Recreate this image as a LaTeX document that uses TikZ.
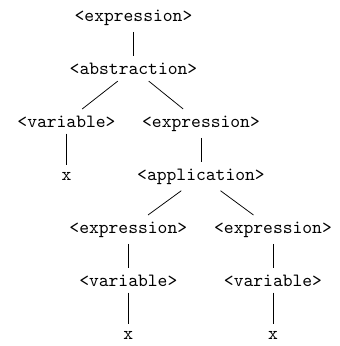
\documentclass[tikz,border=0pt]{standalone}
% Computer Modern typewriter for the grammar symbols
\newcommand{\symfont}{\fontencoding{OT1}\fontfamily{cmtt}\selectfont}
\begin{document}
\begin{tikzpicture}[x=0.5352pt, y=-0.5352pt,
  sym/.style={font=\symfont, anchor=base, inner sep=0.3333em},
  branch/.style={draw=black, line width=0.4pt}]
  \useasboundingbox (0,0) rectangle (340,346);
  % grammar symbols, placed on their baselines
  \node[sym] (expr)  at (133.5,21)  {<expression>};
  \node[sym] (abs)   at (133.5,74.5){<abstraction>};
  \node[sym] (var)   at (66.5,127)  {<variable>};
  \node[sym] (body)  at (201,127)   {<expression>};
  \node[sym] (xa)    at (66.5,180)  {x};
  \node[sym] (app)   at (201,180)   {<application>};
  \node[sym] (fun)   at (128.3,233) {<expression>};
  \node[sym] (arg)   at (273,233)   {<expression>};
  \node[sym] (fvar)  at (128.3,286) {<variable>};
  \node[sym] (avar)  at (273,286)   {<variable>};
  \node[sym] (xb)    at (128.3,339) {x};
  \node[sym] (xc)    at (273,339)   {x};
  % derivation edges
  \draw[branch] (expr) -- (abs);
  \draw[branch] (abs) -- (var);
  \draw[branch] (abs) -- (body);
  \draw[branch] (var) -- (xa);
  \draw[branch] (body) -- (app);
  \draw[branch] (app) -- (fun);
  \draw[branch] (app) -- (arg);
  \draw[branch] (fun) -- (fvar);
  \draw[branch] (arg) -- (avar);
  \draw[branch] (fvar) -- (xb);
  \draw[branch] (avar) -- (xc);
\end{tikzpicture}
\end{document}
